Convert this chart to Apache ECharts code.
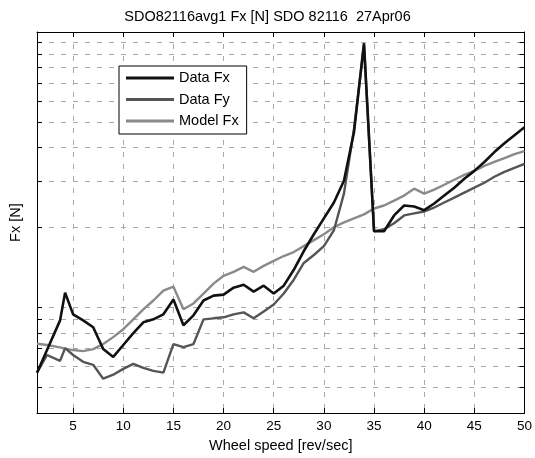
<!DOCTYPE html>
<html><head><meta charset="utf-8">
<script src="https://cdn.jsdelivr.net/npm/echarts@6/dist/echarts.min.js"></script>
<style>html,body{margin:0;padding:0;background:#fff}#c{width:535px;height:458px}</style>
</head><body><div id="c"></div>
<script>
const speeds = [1.4, 2.4, 3.7, 4.2, 5, 6, 7, 8, 9, 10, 11, 12, 13, 14, 15, 16, 17, 18, 19, 20,
  21, 22, 23, 24, 25, 26, 27, 28, 29, 30, 31, 32, 33, 34, 35, 36, 37, 38, 39, 40,
  41, 42, 43, 44, 45, 46, 47, 48, 49, 50];
const dataFx = [5.68, 6.91, 8.94, 11.37, 9.42, 8.94, 8.42, 6.97, 6.51, 7.22, 8.00, 8.79, 9.02, 9.42, 10.71, 8.57, 9.34, 10.62, 11.08, 11.18,
  11.87, 12.18, 11.47, 12.08, 11.28, 12.08, 13.86, 16.31, 18.87, 21.65, 24.84, 30.0, 45.68, 98.9, 19.36, 19.36, 22.21, 24.21, 24.0, 23.25,
  24.63, 26.38, 28.25, 30.52, 32.69, 35.31, 38.48, 41.56, 44.52, 47.69];
const dataFy = [5.68, 6.62, 6.29, 7.03, 6.62, 6.24, 6.08, 5.39, 5.58, 5.87, 6.13, 5.92, 5.77, 5.68, 7.28, 7.09, 7.28, 9.02, 9.10, 9.18,
  9.42, 9.58, 9.10, 9.66, 10.26, 11.28, 12.72, 14.71, 15.76, 17.03, 19.53, 26.83, 46.88, 97.2, 19.36, 19.70, 20.75, 22.21, 22.60, 22.99,
  23.79, 24.84, 25.93, 27.07, 28.25, 29.49, 31.05, 32.41, 33.54, 34.71];
const modelFx = [7.30, 7.22, 7.07, 7.00, 6.91, 6.85, 6.97, 7.28, 7.73, 8.28, 9.02, 9.83, 10.62, 11.57, 11.97, 9.85, 10.35, 11.28, 12.29, 13.16,
  13.62, 14.22, 13.62, 14.34, 14.97, 15.62, 16.17, 17.03, 17.93, 18.87, 20.04, 20.92, 21.65, 22.41, 23.59, 24.21, 25.27, 26.38, 28.01, 26.83,
  27.77, 28.99, 30.26, 31.58, 32.69, 34.12, 35.31, 36.54, 37.81, 38.80];
const xTicks = [5, 10, 15, 20, 25, 30, 35, 40, 45, 50];
const yTicks = [5, 6, 7, 8, 9, 10, 20, 30, 40, 50, 60, 70, 80, 90, 100];

const FONT = 'Liberation Sans, Arial, sans-serif';
const pairs = arr => speeds.map((s, i) => [s, arr[i]]);
const gridLine = { show: true, lineStyle: { color: '#a8a8a8', type: [5, 7], width: 1 } };
const axLine = { show: true, onZero: false, lineStyle: { color: '#000', width: 1 } };

function xAx(pos, main) {
  return {
    type: 'value', position: pos, min: 1.4, max: 50,
    axisLine: axLine,
    axisTick: { show: true, inside: true, length: 5, customValues: xTicks, lineStyle: { color: '#000' } },
    axisLabel: main ? { show: true, customValues: xTicks, color: '#000', fontFamily: FONT, fontSize: 13.5, margin: 6 } : { show: false },
    splitLine: main ? Object.assign({}, gridLine) : { show: false },
    name: main ? 'Wheel speed [rev/sec]' : '', nameLocation: 'middle', nameGap: 21,
    nameTextStyle: { color: '#000', fontFamily: FONT, fontSize: 14.5 }
  };
}
function yAx(pos, main) {
  return {
    type: 'log', logBase: 10, position: pos, min: 4, max: 109,
    axisLine: axLine,
    axisTick: { show: true, inside: true, length: 5, customValues: yTicks, lineStyle: { color: '#000' } },
    axisLabel: { show: false },
    splitLine: main ? Object.assign({}, gridLine) : { show: false },
    minorSplitLine: { show: false },
    name: main ? 'Fx [N]' : '', nameLocation: 'middle', nameGap: 14, nameRotate: 90,
    nameTextStyle: { color: '#000', fontFamily: FONT, fontSize: 14.5 }
  };
}

const chart = echarts.init(document.getElementById('c'), null, { renderer: 'canvas' });
chart.setOption({
  animation: false,
  backgroundColor: '#fff',
  title: { text: 'SDO82116avg1 Fx [N] SDO 82116  27Apr06', left: 'center', top: 4,
    textStyle: { color: '#000', fontWeight: 'normal', fontFamily: FONT, fontSize: 14.5 } },
  grid: { left: 36, right: 9, top: 32, bottom: 41 },
  xAxis: [xAx('bottom', true), xAx('top', false)],
  yAxis: [yAx('left', true), yAx('right', false)],
  legend: {
    orient: 'vertical', left: 119, top: 66,
    backgroundColor: '#fff', borderColor: '#000', borderWidth: 1, borderRadius: 0,
    padding: [4, 8, 5, 7], itemWidth: 48, itemHeight: 3, itemGap: 5.5,
    icon: 'rect',
    textStyle: { color: '#000', fontFamily: FONT, fontSize: 14.5, lineHeight: 16 },
    data: ['Data Fx', 'Data Fy', 'Model Fx']
  },
  series: [
    { name: 'Data Fx', type: 'line', data: pairs(dataFx), showSymbol: false, symbol: 'none',
      lineStyle: { color: '#111', width: 2.6 }, itemStyle: { color: '#111' }, z: 5 },
    { name: 'Data Fy', type: 'line', data: pairs(dataFy), showSymbol: false, symbol: 'none',
      lineStyle: { color: '#555', width: 2.4 }, itemStyle: { color: '#555' }, z: 4 },
    { name: 'Model Fx', type: 'line', data: pairs(modelFx), showSymbol: false, symbol: 'none',
      lineStyle: { color: '#8a8a8a', width: 2.4 }, itemStyle: { color: '#8a8a8a' }, z: 3 }
  ]
});
</script></body></html>
